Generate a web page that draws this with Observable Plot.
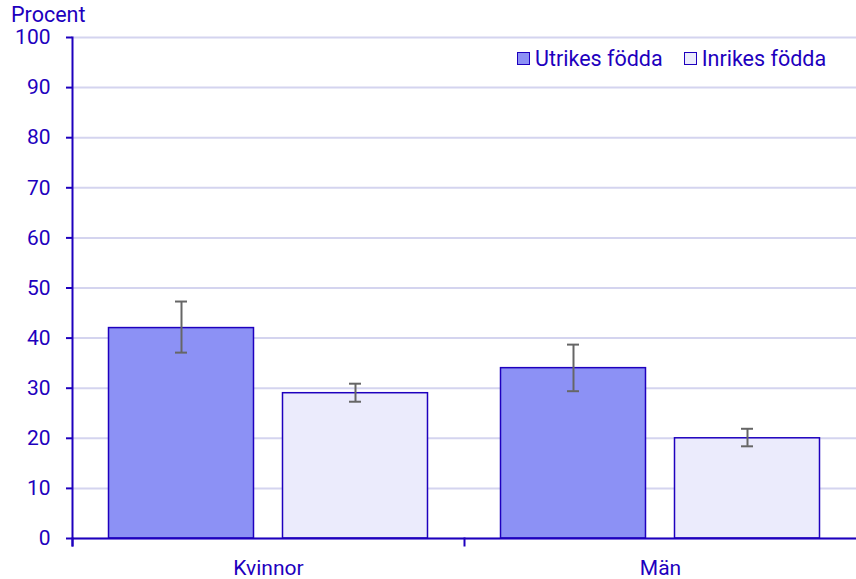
<!DOCTYPE html>
<html><head><meta charset="utf-8">
<script src="https://cdn.jsdelivr.net/npm/d3@7"></script>
<script src="https://cdn.jsdelivr.net/npm/@observablehq/plot@0.6"></script>
<style>
body{margin:0;background:#fff;font-family:Roboto,sans-serif;color:#1e00be;}
#wrap{position:relative;width:856px;height:579px;}
#ylab{position:absolute;left:11px;top:4px;font-size:21.5px;line-height:1;}
#legend{position:absolute;left:517px;top:48px;font-size:21.5px;line-height:1;display:flex;gap:21px;}
.it{display:flex;align-items:center;gap:5px;}
.sw{width:11px;height:11px;border:1.5px solid #1e00be;}
</style></head>
<body><div id="wrap"><div id="chart"></div><div id="ylab">Procent</div><div id="legend"></div></div>
<script>
const genders = ["Kvinnor", "Män"];
const groups = ["Utrikes födda", "Inrikes födda"];
const utrikes = [42, 34];
const inrikes = [29, 20];
const utrikesLow = [37.1, 29.4];
const utrikesHigh = [47.3, 38.7];
const inrikesLow = [27.3, 18.4];
const inrikesHigh = [30.9, 21.9];
const yTicks = [0, 10, 20, 30, 40, 50, 60, 70, 80, 90, 100];
const colors = ["#8c91f5", "#ebebfc"];

const rows = [];
genders.forEach((g, i) => {
  rows.push({gender: g, group: groups[0], value: utrikes[i], lo: utrikesLow[i], hi: utrikesHigh[i]});
  rows.push({gender: g, group: groups[1], value: inrikes[i], lo: inrikesLow[i], hi: inrikesHigh[i]});
});

const ink = "#1e00be";
const chart = Plot.plot({
  width: 856, height: 579,
  marginLeft: 72, marginRight: 0, marginTop: 37, marginBottom: 41,
  style: {fontFamily: "Roboto, sans-serif", fontSize: "21px", color: ink, background: "white"},
  fx: {domain: genders, padding: 0, axis: null, label: null, round: false},
  x: {domain: groups, paddingInner: 0.1667, paddingOuter: 0.2098, round: false, axis: null},
  y: {domain: [0, 100], axis: null},
  color: {domain: groups, range: colors},
  marks: [
    Plot.gridY(yTicks, {stroke: "#d4d4ef", strokeOpacity: 1, strokeWidth: 2}),
    Plot.barY(rows, {fx: "gender", x: "group", y: "value", fill: "group", stroke: ink, strokeWidth: 1.5}),
    Plot.ruleX(rows, {fx: "gender", x: "group", y1: "lo", y2: "hi", stroke: "#666", strokeWidth: 2}),
    Plot.tickY(rows, {fx: "gender", x: "group", y: "lo", stroke: "#666", strokeWidth: 2, insetLeft: 66.5, insetRight: 66.5}),
    Plot.tickY(rows, {fx: "gender", x: "group", y: "hi", stroke: "#666", strokeWidth: 2, insetLeft: 66.5, insetRight: 66.5}),
    Plot.ruleY([0], {stroke: ink, strokeWidth: 2}),
    Plot.frame({anchor: "left", facetAnchor: "left", stroke: ink, strokeWidth: 2, insetBottom: -7}),
    Plot.frame({anchor: "left", stroke: ink, strokeWidth: 2, insetTop: 501, insetBottom: -7}),
    Plot.axisY(yTicks, {tickSize: 6, tickPadding: 16, strokeWidth: 2, label: null, fontSize: 21}),
    Plot.axisFx({anchor: "bottom", tickSize: 0, tickPadding: 22, label: null, fontSize: 21})
  ]
});
document.getElementById("chart").appendChild(chart);

const leg = document.getElementById("legend");
groups.forEach((g, i) => {
  const it = document.createElement("div"); it.className = "it";
  const sw = document.createElement("div"); sw.className = "sw"; sw.style.background = colors[i];
  const t = document.createElement("span"); t.textContent = g;
  it.appendChild(sw); it.appendChild(t); leg.appendChild(it);
});
</script></body></html>
